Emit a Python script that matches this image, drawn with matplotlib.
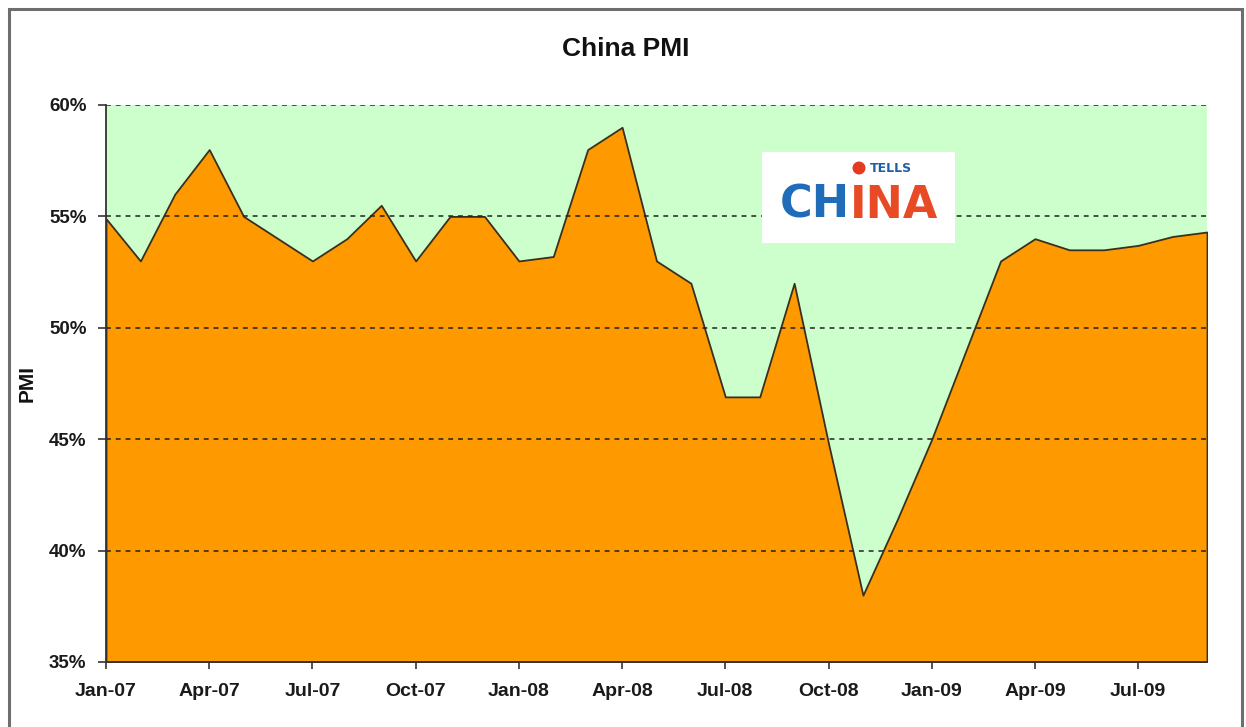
import matplotlib
matplotlib.use("Agg")
import matplotlib.pyplot as plt
from matplotlib.patches import Rectangle, Ellipse
from matplotlib.ticker import FixedLocator, FuncFormatter

# Monthly PMI readings, Jan-07 .. Sep-09
months = [
    "Jan-07", "Feb-07", "Mar-07", "Apr-07", "May-07", "Jun-07",
    "Jul-07", "Aug-07", "Sep-07", "Oct-07", "Nov-07", "Dec-07",
    "Jan-08", "Feb-08", "Mar-08", "Apr-08", "May-08", "Jun-08",
    "Jul-08", "Aug-08", "Sep-08", "Oct-08", "Nov-08", "Dec-08",
    "Jan-09", "Feb-09", "Mar-09", "Apr-09", "May-09", "Jun-09",
    "Jul-09", "Aug-09", "Sep-09",
]
pmi = [
    54.9, 53.0, 56.0, 58.0, 55.0, 54.0,
    53.0, 54.0, 55.5, 53.0, 55.0, 55.0,
    53.0, 53.2, 58.0, 59.0, 53.0, 52.0,
    46.9, 46.9, 52.0, 44.8, 38.0, 41.4,
    45.0, 49.0, 53.0, 54.0, 53.5, 53.5,
    53.7, 54.1, 54.3,
]
y_ticks = [35, 40, 45, 50, 55, 60]
grid_levels = [40, 45, 50, 55, 60]

W, H = 1246, 727
fig = plt.figure(figsize=(W / 100, H / 100), dpi=100)
fig.patch.set_facecolor("white")

# outer frame
fig.patches.append(Rectangle((9 / W, -0.05), (1242 - 9) / W, (H - 9) / H + 0.05,
                             transform=fig.transFigure, fill=False,
                             edgecolor="#6e6e6e", linewidth=2.2))

ax = fig.add_axes([106 / W, 1 - 662 / H, (1207 - 106) / W, (662 - 105) / H])
ax.set_facecolor("#ccffcc")

x = list(range(len(pmi)))
ax.fill_between(x, 35, pmi, facecolor="#ff9900", edgecolor="#3a3020",
                linewidth=1.3, zorder=2)

for g in grid_levels:
    ax.axhline(g, color="#222222", linewidth=1.1, linestyle=(0, (3.2, 3.2)), zorder=3)

ax.set_xlim(0, len(pmi) - 1)
ax.set_ylim(35, 60)

tick_idx = list(range(0, len(pmi), 3))
ax.xaxis.set_major_locator(FixedLocator(tick_idx))
ax.set_xticklabels([months[i] for i in tick_idx])
ax.yaxis.set_major_locator(FixedLocator(y_ticks))
ax.yaxis.set_major_formatter(FuncFormatter(lambda v, p: f"{v:.0f}%"))

for lab in ax.get_xticklabels() + ax.get_yticklabels():
    lab.set_fontfamily("Liberation Sans")
    lab.set_fontweight("bold")
for lab in ax.get_xticklabels():
    lab.set_fontsize(14)
for lab in ax.get_yticklabels():
    lab.set_fontsize(13.5)

ax.tick_params(axis="x", direction="out", length=5, width=1.2, pad=10, colors="#333333",
               labelcolor="#1a1a1a")
ax.tick_params(axis="y", direction="out", length=6, width=1.2, pad=8, colors="#333333",
               labelcolor="#1a1a1a")

for side in ["top", "right"]:
    ax.spines[side].set_visible(False)
for side in ["left", "bottom"]:
    ax.spines[side].set_color("#333333")
    ax.spines[side].set_linewidth(1.3)
    ax.spines[side].set_zorder(4)

fig.text(626 / W, 1 - 49 / H, "China PMI", ha="center", va="center",
         fontfamily="Liberation Sans", fontweight="bold", fontsize=19, color="#111111")
fig.text(27 / W, 1 - 383 / H, "PMI", ha="center", va="center", rotation=90,
         fontfamily="Liberation Sans", fontweight="bold", fontsize=15, color="#111111")

# "CHINA TELLS" badge
fig.patches.append(Rectangle((762 / W, 1 - 243 / H), (955 - 762) / W, (243 - 152) / H,
                             transform=fig.transFigure, facecolor="white",
                             edgecolor="none", zorder=5))
join_x = 850
fig.text(join_x / W, 1 - 218 / H, "CH", ha="right", va="baseline",
         fontfamily="DejaVu Sans", fontweight="bold", fontsize=32,
         color="#1f6cb8", zorder=6)
fig.text(join_x / W, 1 - 218 / H, "INA", ha="left", va="baseline",
         fontfamily="DejaVu Sans", fontweight="bold", fontsize=32,
         color="#e84a26", zorder=6)
fig.patches.append(Ellipse((859 / W, 1 - 168 / H), 13 / W, 13 / H,
                           transform=fig.transFigure,
                           facecolor="#e33b22", edgecolor="none", zorder=6))
fig.text(870 / W, 1 - 168 / H, "TELLS", ha="left", va="center",
         fontfamily="DejaVu Sans", fontweight="bold", fontsize=9,
         color="#1f5fa8", zorder=6)

fig.savefig("out.png", dpi=100, facecolor="white")
